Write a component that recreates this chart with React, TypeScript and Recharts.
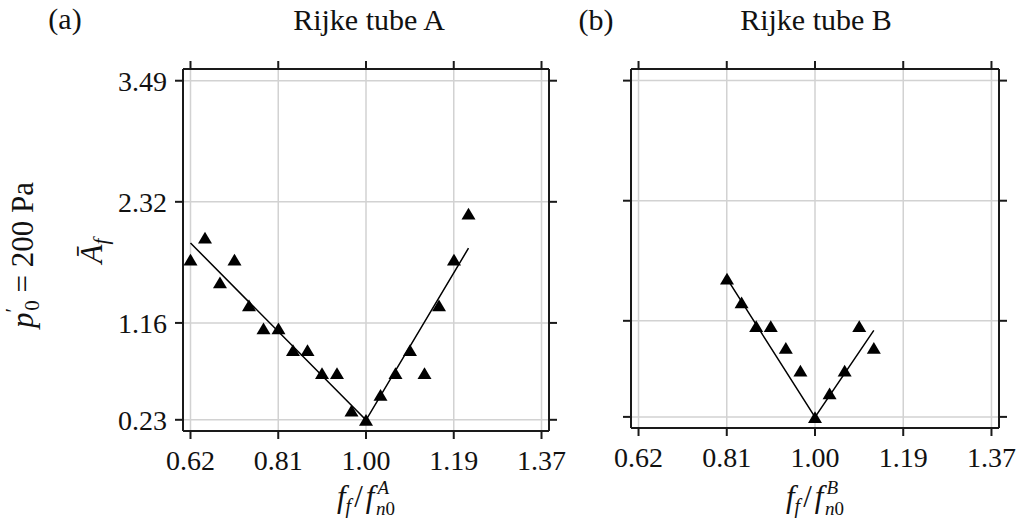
import React from 'react';
import { CartesianGrid, Scatter, ScatterChart, XAxis, YAxis } from 'recharts';

// values (frequency ratio vs. mean amplitude)
const freqA = [0.625, 0.656, 0.688, 0.719, 0.75, 0.781, 0.813, 0.844, 0.875, 0.906, 0.938, 0.969, 1.0, 1.031, 1.063, 1.094, 1.125, 1.156, 1.188, 1.219];
const ampA = [1.77, 1.98, 1.55, 1.77, 1.33, 1.11, 1.11, 0.9, 0.9, 0.68, 0.68, 0.32, 0.23, 0.47, 0.68, 0.9, 0.68, 1.33, 1.77, 2.21];
const fitFreqA = [0.625, 1.0, 1.219];
const fitAmpA = [1.93, 0.23, 1.88];

const freqB = [0.813, 0.844, 0.875, 0.906, 0.938, 0.969, 1.0, 1.031, 1.063, 1.094, 1.125];
const ampB = [1.57, 1.34, 1.11, 1.11, 0.9, 0.68, 0.23, 0.46, 0.68, 1.11, 0.9];
const fitFreqB = [0.813, 1.0, 1.125];
const fitAmpB = [1.57, 0.23, 1.07];

const xTicks = [0.625, 0.8125, 1.0, 1.1875, 1.375];
const xTickLabels = ['0.62', '0.81', '1.00', '1.19', '1.37'];
const yTicks = [0.2325, 1.1625, 2.325, 3.4875];
const yTickLabels = ['0.23', '1.16', '2.32', '3.49'];

const X_DOMAIN: [number, number] = [0.609, 1.391];
const Y_DOMAIN: [number, number] = [0.125, 3.6];

const FONT = 'Liberation Serif, DejaVu Serif, serif';
const INK = '#1a1a1a';

const toPoints = (xs: number[], ys: number[]) => xs.map((x, i) => ({ x, y: ys[i] }));

const xLabel = (v: number) => xTickLabels[xTicks.indexOf(v)] ?? '';
const yLabel = (v: number) => yTickLabels[yTicks.indexOf(v)] ?? '';
const blank = () => '';

function Triangle(props: any) {
  const { cx, cy } = props;
  if (cx == null || cy == null) return <g />;
  return (
    <polygon
      points={`${cx},${cy - 6} ${cx - 7},${cy + 5.8} ${cx + 7},${cy + 5.8}`}
      fill="#000"
    />
  );
}

const NoDot = () => <g />;

type PanelProps = {
  points: { x: number; y: number }[];
  fit: { x: number; y: number }[];
  width: number;
  height: number;
  margin: { top: number; right: number; bottom: number; left: number };
  showY: boolean;
  left: number;
};

// axes get a 1px size (a 0 size stops recharts from drawing them), margins make up the rest
function Panel({ points, fit, width, height, margin, showY, left }: PanelProps) {
  const axisLine = { stroke: INK, strokeWidth: 2 };
  const tick = { fontSize: 28, fill: '#111', fontFamily: FONT };
  return (
    <div style={{ position: 'absolute', left, top: 0 }}>
      <ScatterChart width={width} height={height} margin={margin}>
        <CartesianGrid stroke="#d2d2d2" strokeWidth={1.5} />
        <XAxis
          type="number"
          dataKey="x"
          domain={X_DOMAIN}
          ticks={xTicks}
          allowDataOverflow
          height={1}
          tickSize={8}
          tickMargin={11}
          axisLine={axisLine}
          tickLine={axisLine}
          tick={tick}
          tickFormatter={xLabel}
          interval={0}
        />
        <XAxis
          xAxisId="top"
          orientation="top"
          type="number"
          dataKey="x"
          domain={X_DOMAIN}
          ticks={xTicks}
          allowDataOverflow
          height={1}
          tickSize={8}
          axisLine={axisLine}
          tickLine={axisLine}
          tickFormatter={blank}
          interval={0}
        />
        <YAxis
          type="number"
          dataKey="y"
          domain={Y_DOMAIN}
          ticks={yTicks}
          allowDataOverflow
          width={1}
          tickSize={8}
          tickMargin={8}
          axisLine={axisLine}
          tickLine={axisLine}
          tick={tick}
          tickFormatter={showY ? yLabel : blank}
          interval={0}
        />
        <YAxis
          yAxisId="right"
          orientation="right"
          type="number"
          dataKey="y"
          domain={Y_DOMAIN}
          ticks={yTicks}
          allowDataOverflow
          width={1}
          tickSize={8}
          axisLine={axisLine}
          tickLine={axisLine}
          tickFormatter={blank}
          interval={0}
        />
        <Scatter
          data={fit}
          line={{ stroke: '#000', strokeWidth: 1.5 }}
          shape={NoDot}
          isAnimationActive={false}
        />
        <Scatter data={points} shape={Triangle} isAnimationActive={false} />
      </ScatterChart>
    </div>
  );
}

function XTitle({ cx, sup }: { cx: number; sup: string }) {
  return (
    <text x={cx} y={507} textAnchor="middle" fontSize={31} fontFamily={FONT} fill="#111">
      <tspan fontStyle="italic">f</tspan>
      <tspan fontStyle="italic" fontSize={20} dy={6}>f</tspan>
      <tspan dx={3} dy={-6}>/</tspan>
      <tspan fontStyle="italic" dx={3}>f</tspan>
      <tspan fontStyle="italic" fontSize={19} dx={3} dy={-13}>{sup}</tspan>
      <tspan fontStyle="italic" fontSize={19} dx={-13} dy={21}>n</tspan>
      <tspan fontSize={19}>0</tspan>
    </text>
  );
}

export default function App() {
  const pointsA = toPoints(freqA, ampA);
  const pointsB = toPoints(freqB, ampB);
  const fitA = toPoints(fitFreqA, fitAmpA);
  const fitB = toPoints(fitFreqB, fitAmpB);

  return (
    <div
      style={{
        position: 'absolute',
        left: 0,
        top: 0,
        width: 1019,
        height: 520,
        background: '#fff',
        overflow: 'hidden',
        fontFamily: FONT,
      }}
    >
      <Panel
        points={pointsA}
        fit={fitA}
        width={600}
        height={520}
        margin={{ top: 68, right: 50, bottom: 88, left: 182 }}
        showY
        left={0}
      />
      <Panel
        points={pointsB}
        fit={fitB}
        width={419}
        height={520}
        margin={{ top: 68, right: 19, bottom: 91, left: 30 }}
        showY={false}
        left={600}
      />
      <svg
        width={1019}
        height={520}
        style={{ position: 'absolute', left: 0, top: 0, pointerEvents: 'none' }}
      >
        <g fontFamily={FONT} fill="#111" fontSize={30}>
          <text x={65} y={29} textAnchor="middle">(a)</text>
          <text x={369} y={30} textAnchor="middle">Rijke tube A</text>
          <text x={596} y={30} textAnchor="middle">(b)</text>
          <text x={816} y={30} textAnchor="middle">Rijke tube B</text>

          <text x={33} y={255} fontSize={31} textAnchor="middle" transform="rotate(-90 33 255)">
            <tspan fontStyle="italic">p</tspan>
            <tspan fontSize={21} dy={-13}>′</tspan>
            <tspan fontSize={21} dx={-3} dy={19}>0</tspan>
            <tspan dy={-6}> = 200 Pa</tspan>
          </text>

          <text x={102} y={251} fontSize={31} textAnchor="middle" transform="rotate(-90 102 251)">
            <tspan fontStyle="italic">Ā</tspan>
            <tspan fontStyle="italic" fontSize={21} dy={6}>f</tspan>
          </text>
        </g>
        <XTitle cx={366} sup="A" />
        <XTitle cx={815} sup="B" />
      </svg>
    </div>
  );
}
